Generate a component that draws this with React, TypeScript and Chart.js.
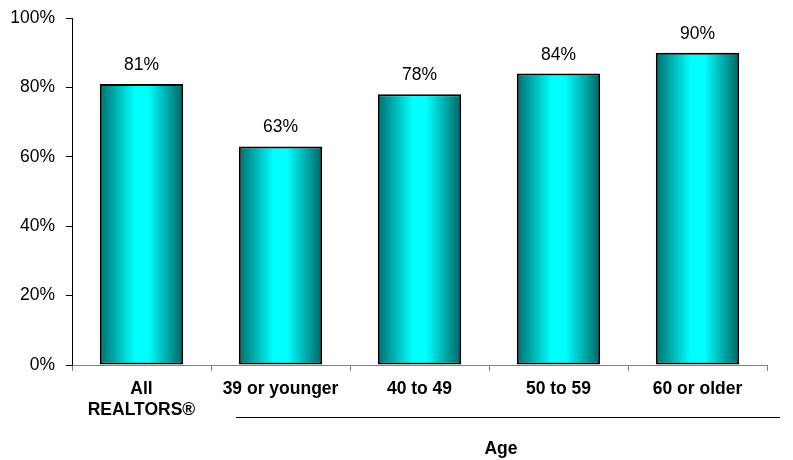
import React, { useEffect, useRef } from "react";
import { Chart, registerables } from "chart.js";

Chart.register(...registerables);

const categories: (string | string[])[] = [["All", "REALTORS®"], "39 or younger", "40 to 49", "50 to 59", "60 or older"];
const values: number[] = [81, 63, 78, 84, 90];
const yTicks: number[] = [0, 20, 40, 60, 80, 100];
const groupLabel = "Age";

const FONT = "'Liberation Sans', Arial, sans-serif";

export default function App() {
  const ref = useRef<HTMLCanvasElement | null>(null);
  useEffect(() => {
    if (!ref.current) return;
    const valueLabels = {
      id: "valueLabels",
      afterDatasetsDraw(chart: any) {
        const ctx = chart.ctx;
        const meta = chart.getDatasetMeta(0);
        ctx.save();
        ctx.font = `17.5px ${FONT}`;
        ctx.fillStyle = "#000";
        ctx.textAlign = "center";
        ctx.textBaseline = "alphabetic";
        meta.data.forEach((bar: any, i: number) => {
          ctx.fillText(values[i] + "%", bar.x, bar.y - 14);
        });
        ctx.restore();
      },
    };
    const groupBracket = {
      id: "groupBracket",
      afterDraw(chart: any) {
        const ctx = chart.ctx;
        const xs = chart.scales.x;
        const step = xs.getPixelForValue(1) - xs.getPixelForValue(0);
        const x0 = xs.getPixelForValue(1) - step / 2 + 25;
        const x1 = xs.getPixelForValue(4) + step / 2 + 13;
        const y = chart.chartArea.bottom + 52;
        ctx.save();
        ctx.strokeStyle = "#000";
        ctx.lineWidth = 1;
        ctx.beginPath();
        ctx.moveTo(x0, y + 0.5);
        ctx.lineTo(x1, y + 0.5);
        ctx.stroke();
        ctx.font = `bold 17.5px ${FONT}`;
        ctx.fillStyle = "#000";
        ctx.textAlign = "center";
        ctx.textBaseline = "middle";
        const cx = (xs.getPixelForValue(1) + xs.getPixelForValue(4)) / 2 + 12;
        ctx.fillText(groupLabel, cx, chart.chartArea.bottom + 84);
        ctx.restore();
      },
    };
    const chart = new Chart(ref.current, {
      type: "bar",
      data: {
        labels: categories,
        datasets: [
          {
            data: values,
            borderColor: "#000",
            borderWidth: 2,
            borderSkipped: false,
            categoryPercentage: 0.6,
            barPercentage: 1,
            backgroundColor: (c: any) => {
              const chart = c.chart;
              const area = chart.chartArea;
              if (!area || !chart.scales.x) return "#00ffff";
              const xs = chart.scales.x;
              const step = (area.right - area.left) / values.length;
              const cx = xs.getPixelForValue(c.dataIndex);
              const half = (step * 0.6) / 2;
              const g = chart.ctx.createLinearGradient(cx - half, 0, cx + half, 0);
              g.addColorStop(0, "#006e6e");
              g.addColorStop(0.42, "#00ffff");
              g.addColorStop(0.58, "#00ffff");
              g.addColorStop(1, "#006464");
              return g;
            },
          },
        ],
      },
      options: {
        animation: false,
        responsive: false,
        maintainAspectRatio: false,
        layout: { padding: { top: 18, right: 26, left: 0, bottom: 0 } },
        plugins: { legend: { display: false }, tooltip: { enabled: false } },
        scales: {
          x: {
            afterFit: (s: any) => {
              s.height = 95;
              s.paddingLeft = 0;
              s.paddingRight = 0;
            },
            grid: {
              offset: true,
              drawOnChartArea: false,
              drawTicks: true,
              tickLength: 6,
              color: "#808080",
            },
            border: { display: true, color: "#808080", width: 1 },
            ticks: {
              color: "#000",
              padding: 8,
              font: { family: FONT, size: 17.5, weight: "bold", lineHeight: 1.2 },
              maxRotation: 0,
              autoSkip: false,
            },
          },
          y: {
            min: 0,
            max: 100,
            afterFit: (s: any) => {
              s.width = 72;
              s.paddingTop = 0;
              s.paddingBottom = 0;
            },
            afterBuildTicks: (s: any) => {
              s.ticks = yTicks.map((v) => ({ value: v }));
            },
            grid: {
              drawOnChartArea: false,
              drawTicks: true,
              tickLength: 6,
              color: "#000",
            },
            border: { display: true, color: "#000", width: 1 },
            ticks: {
              color: "#000",
              padding: 11,
              font: { family: FONT, size: 17.5 },
              callback: (v: any) => v + "%",
            },
          },
        },
      },
      plugins: [valueLabels, groupBracket],
    });
    return () => chart.destroy();
  }, []);
  return (
    <div style={{ position: "absolute", left: 0, top: 0, width: 793, height: 460, background: "#fff" }}>
      <canvas ref={ref} width={793} height={460} style={{ width: 793, height: 460 }} />
    </div>
  );
}
